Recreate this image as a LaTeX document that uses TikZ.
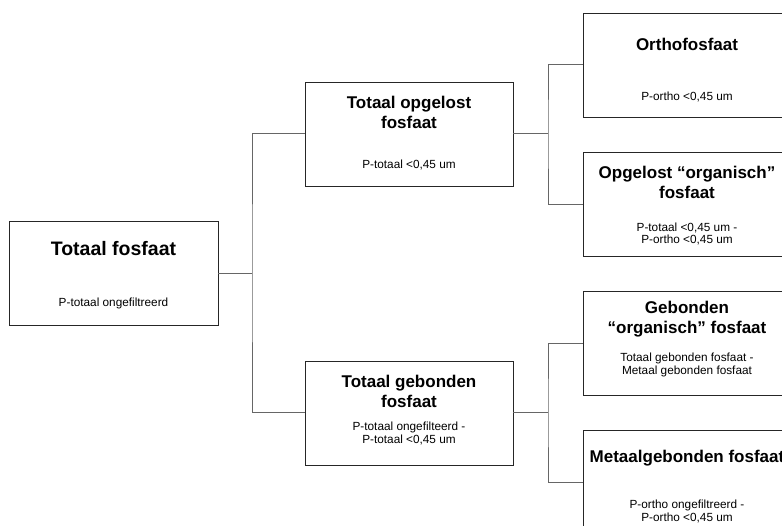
\documentclass[tikz,border=0pt]{standalone}
\usepackage{fontspec}
\setmainfont{Liberation Sans}
\begin{document}
\begin{tikzpicture}[x=1pt,y=-1pt,
  box/.style={draw=black!85,line width=0.9pt,minimum width=208pt,minimum height=104pt,inner sep=0pt},
  ttl/.style={font=\fontsize{17}{20}\selectfont\bfseries,align=center,inner sep=0pt},
  bigttl/.style={font=\fontsize{19.5}{23}\selectfont\bfseries,align=center,inner sep=0pt},
  sub/.style={font=\fontsize{11.8}{12.5}\selectfont,align=center,inner sep=0pt},
  paren/.style={font=\fontsize{17}{20}\selectfont\bfseries,inner sep=0pt,anchor=base},
  conn/.style={draw=black!60,line width=1pt}]
\useasboundingbox (0,0) rectangle (782,526);
\clip (0,0) rectangle (782,526);
% boxes
\node[box,minimum width=209pt] (tf) at (113.5,273.5) {};
\node[box] (to) at (409,134) {};
\node[box] (tg) at (409,413) {};
\node[box] (or) at (687,65) {};
\node[box] (oo) at (687,204.5) {};
\node[box] (go) at (687,343.5) {};
\node[box] (mg) at (687,482) {};
% texts
\node[bigttl] (tft) at ([yshift=-27pt]tf.north) {Totaal fosfaat};
\node[sub] (tfs) at ([yshift=-82pt]tf.north) {P-totaal ongefiltreerd};
\node[ttl] (tot) at ([yshift=-31pt]to.north) {Totaal opgelost\\fosfaat};
\node[sub] (tos) at ([yshift=-83pt]to.north) {P-totaal <0,45 um};
\node[ttl] (tgt) at ([yshift=-31pt]tg.north) {Totaal gebonden\\fosfaat};
\node[sub] (tgs) at ([yshift=-73pt]tg.north) {P-totaal ongefilteerd -\\P-totaal <0,45 um};
\node[ttl] (ort) at ([yshift=-32pt]or.north) {Orthofosfaat};
\node[sub] (ors) at ([yshift=-84pt]or.north) {P-ortho <0,45 um};
\node[ttl] (oot) at ([yshift=-30pt]oo.north) {Opgelost “organisch”\\fosfaat};
\node[sub] (oos) at ([yshift=-82pt]oo.north) {P-totaal <0,45 um -\\P-ortho <0,45 um};
\node[ttl] (got) at ([yshift=-28pt]go.north) {Gebonden\\“organisch” fosfaat};
\node[sub] (gos) at ([yshift=-74pt]go.north) {Totaal gebonden fosfaat -\\Metaal gebonden fosfaat};
\node[ttl] (mgt) at ([yshift=-29pt]mg.north) {Metaalgebonden fosfaat};
\node[sub] (mgs) at ([yshift=-82pt]mg.north) {P-ortho ongefiltreerd -\\P-ortho <0,45 um};
% cut-off parentheses at the top edge
\node[paren] (pl) at (153,-4.5) {(};
\node[paren] (pr) at (380,-4.5) {)};
% connectors
\coordinate (j1) at (252,273.5);
\coordinate (j2) at (548,134);
\coordinate (j3) at (548,413);
\draw[conn] (tf.east) -- (j1);
\draw[conn] (to.west) -| (j1) |- (tg.west);
\draw[conn] (to.east) -- (j2);
\draw[conn] (or.west) -| (j2) |- (oo.west);
\draw[conn] (tg.east) -- (j3);
\draw[conn] (go.west) -| (j3) |- (mg.west);
\end{tikzpicture}
\end{document}
